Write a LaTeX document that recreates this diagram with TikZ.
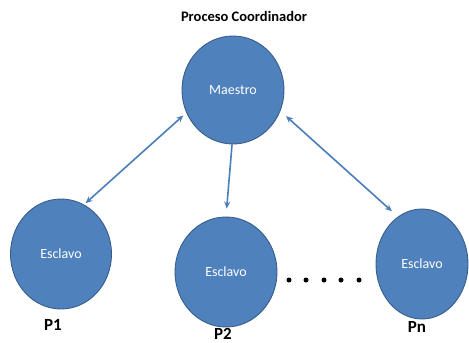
\documentclass[tikz,border=0pt]{standalone}
\usepackage{fontspec}
\setmainfont{Carlito}
\usetikzlibrary{shapes.geometric,arrows.meta}
\definecolor{nodefill}{HTML}{4F81BD}
\definecolor{nodeline}{HTML}{385D8A}
\definecolor{linkblue}{HTML}{4A7EBB}
\tikzset{
  proc/.style={ellipse, draw=nodeline, line width=0.9pt, fill=nodefill,
    text=white, inner sep=0pt, font=\fontsize{14}{16}\selectfont},
  link/.style={draw=linkblue, line width=1.6pt,
    {Stealth[length=7pt,width=6pt]}-{Stealth[length=7pt,width=6pt]}},
  onelink/.style={draw=linkblue, line width=1.6pt, -{Stealth[length=7pt,width=6pt]}},
  tag/.style={font=\bfseries\fontsize{17}{19}\selectfont, inner sep=0pt},
  dot/.style={circle, fill=black, inner sep=0pt, minimum size=5pt}
}
\begin{document}
\begin{tikzpicture}[x=1pt,y=-1pt]
  \useasboundingbox (0,0) rectangle (469,343);

  \node[font=\bfseries\fontsize{14.5}{16}\selectfont] (title) at (244,16) {Proceso Coordinador};

  % master and worker processes
  \node[proc, minimum width=102pt, minimum height=108pt] (m) at (233,90) {Maestro};
  \node[proc, minimum width=101pt, minimum height=110pt] (s1) at (61,254) {Esclavo};
  \node[proc, minimum width=102pt, minimum height=110pt] (s2) at (226,272) {Esclavo};
  \node[proc, minimum width=92pt, minimum height=110pt] (sn) at (422,264) {Esclavo};

  \node[tag] (p1) at (53,325) {P1};
  \node[tag] (p2) at (223,334) {P2};
  \node[tag] (pn) at (417,327) {Pn};

  \foreach \i/\x in {1/289,2/306,3/324,4/341,5/359}
    \node[dot] (d\i) at (\x,280) {};

  % communication links
  \draw[link, shorten <=2pt, shorten >=4pt] (s1.65) -- (m.206);
  \draw[onelink, shorten >=8pt] (m.269) -- (s2.90);
  \draw[link, shorten <=7.5pt, shorten >=8pt] (m.336) -- (sn.117);
\end{tikzpicture}
\end{document}
